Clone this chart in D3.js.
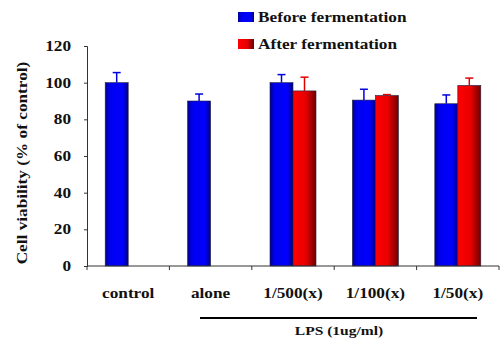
<!DOCTYPE html>
<html>
<head>
<meta charset="utf-8">
<script src="https://cdn.jsdelivr.net/npm/d3@7"></script>
<style>
body { margin: 0; background: #fff; }
text { font-family: "Liberation Serif", "Times New Roman", serif; font-weight: bold; }
</style>
</head>
<body>
<svg id="chart"></svg>
<script>
var svg_width = 503
var svg_height = 342

var categories = ["control", "alone", "1/500(x)", "1/100(x)", "1/50(x)"]
var series = ["Before fermentation", "After fermentation"]
// null = no bar for that group
var before = [100, 90, 100, 90.5, 88.5]
var beforeErr = [5.5, 3.8, 4.4, 5.9, 4.8]
var after = [null, null, 95.5, 93, 98.5]
var afterErr = [null, null, 7.5, 0.5, 4]
var yTicks = [0, 20, 40, 60, 80, 100, 120]

var padL = 87, padR = 499, padT = 46, padB = 266
var stretch = 1.15   // the original type is a bit wider than Liberation Serif

svg = d3.select("#chart")
.attr("width", svg_width)
.attr("height", svg_height)

var defs = svg.append("defs")
var gb = defs.append("linearGradient").attr("id", "gblue")
gb.append("stop").attr("offset", "0%").attr("stop-color", "#000090")
gb.append("stop").attr("offset", "20%").attr("stop-color", "#0000ee")
gb.append("stop").attr("offset", "75%").attr("stop-color", "#0000ff")
gb.append("stop").attr("offset", "100%").attr("stop-color", "#000080")
var gr = defs.append("linearGradient").attr("id", "gred")
gr.append("stop").attr("offset", "0%").attr("stop-color", "#ff0000")
gr.append("stop").attr("offset", "55%").attr("stop-color", "#e80000")
gr.append("stop").attr("offset", "100%").attr("stop-color", "#700000")

var x = d3.scaleBand().domain(categories).range([padL, padR])
var y = d3.scaleLinear().domain([0, 120]).range([padB, padT])
var barW = 23

var rows = []
categories.forEach(function(c, i) {
  rows.push({ cat: c, s: 0, v: before[i], e: beforeErr[i] })
  if (after[i] != null) rows.push({ cat: c, s: 1, v: after[i], e: afterErr[i] })
})

function bx(d) { return x(d.cat) + x.bandwidth() / 2 - barW + d.s * barW }
function tr(px, py, rot) {
  return "translate(" + px + "," + py + ")" + (rot ? " rotate(" + rot + ")" : "") + " scale(" + stretch + ",1)"
}

// error bars (drawn first so the bar covers the lower part)
var eb = svg.append("g")
eb.selectAll("line.stem")
.data(rows)
.enter()
.append("line")
.attr("x1", function(d) { return bx(d) + barW / 2 })
.attr("x2", function(d) { return bx(d) + barW / 2 })
.attr("y1", function(d) { return y(d.v) })
.attr("y2", function(d) { return y(d.v + d.e) })
.attr("stroke", function(d) { return d.s ? "#e00000" : "#0000e0" })
.attr("stroke-width", 1.5)
eb.selectAll("line.cap")
.data(rows)
.enter()
.append("line")
.attr("x1", function(d) { return bx(d) + barW / 2 - 4 })
.attr("x2", function(d) { return bx(d) + barW / 2 + 4 })
.attr("y1", function(d) { return y(d.v + d.e) })
.attr("y2", function(d) { return y(d.v + d.e) })
.attr("stroke", function(d) { return d.s ? "#e00000" : "#0000e0" })
.attr("stroke-width", 1.5)

svg.append("g").selectAll("rect")
.data(rows)
.enter()
.append("rect")
.attr("x", bx)
.attr("y", function(d) { return y(d.v) })
.attr("width", barW)
.attr("height", function(d) { return padB - y(d.v) })
.attr("fill", function(d) { return d.s ? "url(#gred)" : "url(#gblue)" })
.attr("stroke", "#202040")
.attr("stroke-width", 0.6)

// y axis
var yAxis = d3.axisLeft(y).tickValues(yTicks).tickSize(3)
var ga = svg.append("g").attr("transform", "translate(" + padL + ",0)").call(yAxis)
ga.select(".domain").attr("stroke", "#333")
ga.selectAll(".tick line").attr("stroke", "#333")
ga.selectAll(".tick text").remove()
svg.selectAll("text.yl")
.data(yTicks)
.enter()
.append("text")
.attr("transform", function(d) { return tr(71, y(d) + 5) })
.attr("text-anchor", "end")
.attr("font-size", 15)
.attr("fill", "#111")
.text(function(d) { return d })

// x axis
svg.append("line")
.attr("x1", padL).attr("x2", padR).attr("y1", padB).attr("y2", padB)
.attr("stroke", "#333")
var bounds = categories.map(function(c) { return x(c) }).concat([padR])
svg.selectAll("line.xt")
.data(bounds)
.enter()
.append("line")
.attr("x1", function(d) { return d }).attr("x2", function(d) { return d })
.attr("y1", padB).attr("y2", padB + 4)
.attr("stroke", "#333")

svg.selectAll("text.xl")
.data(categories)
.enter()
.append("text")
.attr("transform", function(d) { return tr(x(d) + x.bandwidth() / 2, 298) })
.attr("text-anchor", "middle")
.attr("font-size", 15)
.attr("fill", "#111")
.text(function(d) { return d })

// LPS bracket
svg.append("line")
.attr("x1", 200).attr("x2", 477).attr("y1", 318).attr("y2", 318)
.attr("stroke", "#000").attr("stroke-width", 2)
svg.append("text")
.attr("transform", tr(339, 335))
.attr("text-anchor", "middle")
.attr("font-size", 13.5)
.attr("fill", "#111")
.text("LPS (1ug/ml)")

// y label
svg.append("text")
.attr("transform", tr(27, 163, -90))
.attr("text-anchor", "middle")
.attr("font-size", 15)
.attr("fill", "#111")
.text("Cell viability  (% of control)")

// legend
var lg = svg.append("g")
lg.selectAll("rect")
.data(series)
.enter()
.append("rect")
.attr("x", 238)
.attr("y", function(d, i) { return 12 + i * 27 })
.attr("width", 16)
.attr("height", 10)
.attr("fill", function(d, i) { return i ? "url(#gred)" : "url(#gblue)" })
lg.selectAll("text")
.data(series)
.enter()
.append("text")
.attr("transform", function(d, i) { return tr(258, 22 + i * 27) })
.attr("font-size", 15)
.attr("fill", "#111")
.text(function(d) { return d })
</script>
</body>
</html>
